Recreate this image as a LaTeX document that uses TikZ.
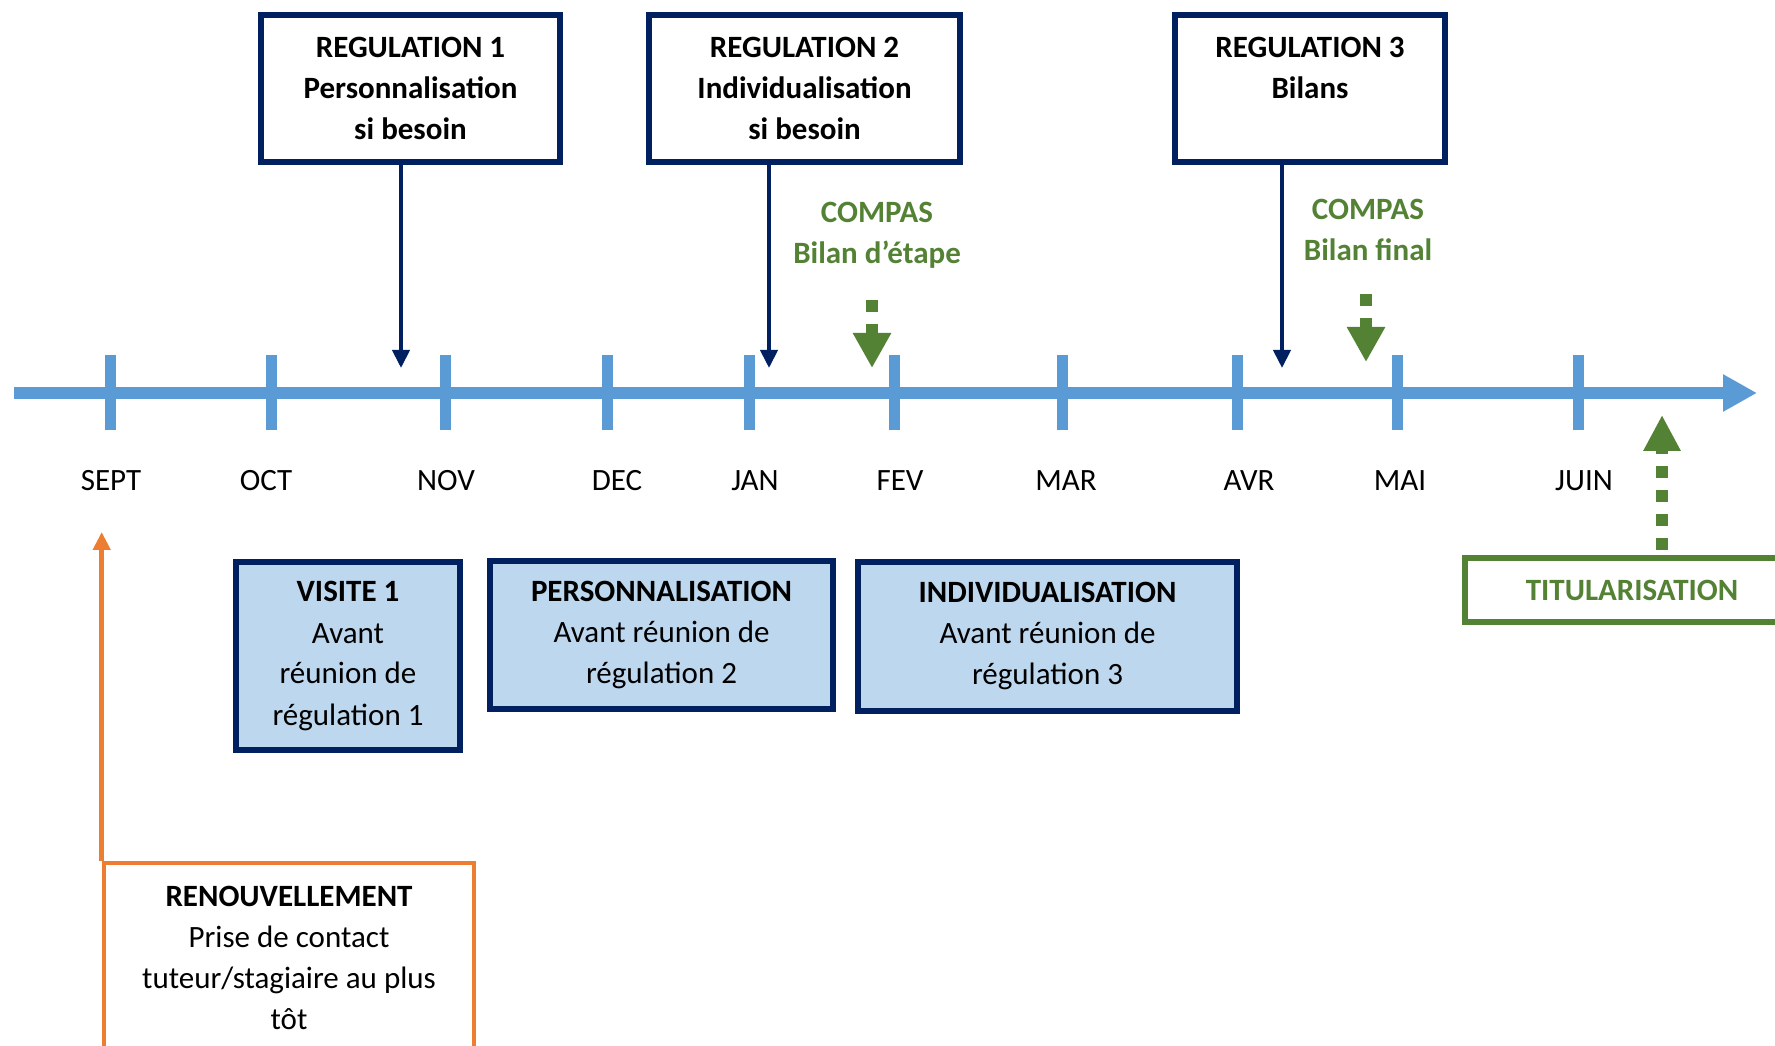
\documentclass[tikz,border=0pt]{standalone}
\usepackage{fontspec}
\setmainfont{Carlito}
\usetikzlibrary{arrows.meta}
\definecolor{navy}{HTML}{002060}
\definecolor{lblue}{HTML}{BDD7EE}
\definecolor{tline}{HTML}{5B9BD5}
\definecolor{gr}{HTML}{548235}
\definecolor{orng}{HTML}{ED7D31}
\begin{document}
\begin{tikzpicture}[x=0.25pt,y=-0.25pt,
  every node/.style={font=\fontsize{7.75pt}{10.25pt}\selectfont, inner sep=0pt, align=center},
  regbox/.style={draw=navy, line width=1.5pt, fill=white, font=\fontsize{7.75pt}{10.25pt}\selectfont\bfseries},
  actbox/.style={draw=navy, line width=1.5pt, fill=lblue},
  titbox/.style={draw=gr, line width=1.5pt, fill=white, text=gr, font=\fontsize{7.75pt}{10.25pt}\selectfont\bfseries},
  renbox/.style={draw=orng, line width=1.15pt, fill=white},
  greentext/.style={text=gr, font=\fontsize{7.75pt}{10.25pt}\selectfont\bfseries},
  month/.style={anchor=base},
  tick/.style={draw=tline, line width=2.75pt},
  timeline/.style={draw=tline, line width=3pt, -{Triangle[width=8.75pt,length=8.5pt]}},
  navyarrow/.style={draw=navy, line width=1pt, -{Triangle[width=4.25pt,length=4.5pt]}},
  greenarrow/.style={draw=gr, line width=3pt, dash pattern=on 3pt off 3pt, -{Triangle[width=9pt,length=8.75pt]}},
  titarrow/.style={draw=gr, line width=3pt, dash pattern=on 3pt off 3pt, -{Triangle[width=8.75pt,length=9pt]}},
  orngarrow/.style={draw=orng, line width=1.15pt, -{Triangle[width=4.25pt,length=4.5pt]}}
]
\useasboundingbox (0,0) rectangle (1775,1046);
\clip (0,0) rectangle (1775,1046);
\fill[white] (0,0) rectangle (1775,1046);

% timeline
\coordinate (tlstart) at (14,393);
\coordinate (tlend) at (1757,393);
\draw[timeline] (tlstart) -- (tlend);
\foreach \tx in {110,271,445,607,749,894,1062,1237,1397,1578}
  \draw[tick] (\tx,355) -- (\tx,430);

% months
\node[month] (m1) at (111,491) {SEPT};
\node[month] (m2) at (266,491) {OCT};
\node[month] (m3) at (446,491) {NOV};
\node[month] (m4) at (617,491) {DEC};
\node[month] (m5) at (755,491) {JAN};
\node[month] (m6) at (900,491) {FEV};
\node[month] (m7) at (1066,491) {MAR};
\node[month] (m8) at (1249,491) {AVR};
\node[month] (m9) at (1400,491) {MAI};
\node[month] (m10) at (1584,491) {JUIN};

% regulation boxes
\node[regbox, minimum width=74.75pt, minimum height=36.75pt] (reg1) at (410.5,88.5)
  {REGULATION 1\\Personnalisation\\si besoin};
\node[regbox, minimum width=77.75pt, minimum height=36.75pt] (reg2) at (804.5,88.5)
  {REGULATION 2\\Individualisation\\si besoin};
\node[regbox, minimum width=67.5pt, minimum height=36.75pt] (reg3) at (1310,88.5)
  {REGULATION 3\\Bilans\\\mbox{}};

\coordinate (r1tip) at (401,368);
\coordinate (r2tip) at (769,368);
\coordinate (r3tip) at (1282,368);
\draw[navyarrow] (reg1.south -| r1tip) -- (r1tip);
\draw[navyarrow] (reg2.south -| r2tip) -- (r2tip);
\draw[navyarrow] (reg3.south -| r3tip) -- (r3tip);

% compas
\node[greentext] (c1) at (877,235) {COMPAS\\Bilan d’étape};
\node[greentext] (c2) at (1368,230) {COMPAS\\Bilan final};
\coordinate (c1top) at (872,300);
\coordinate (c1tip) at (872,368);
\coordinate (c2top) at (1366,294);
\coordinate (c2tip) at (1366,362);
\draw[greenarrow] (c1top) -- (c1tip);
\draw[greenarrow] (c2top) -- (c2tip);

% activity boxes
\node[actbox, minimum width=56.1pt, minimum height=47pt] (vis) at (348,656)
  {{\bfseries VISITE 1}\\Avant\\réunion de\\régulation 1};
\node[actbox, minimum width=85.75pt, minimum height=37pt] (pers) at (661.5,635)
  {{\bfseries PERSONNALISATION}\\Avant réunion de\\régulation 2};
\node[actbox, minimum width=94.75pt, minimum height=37.25pt] (ind) at (1047.5,636.5)
  {{\bfseries INDIVIDUALISATION}\\Avant réunion de\\régulation 3};

% titularisation
\node[titbox, minimum width=83.75pt, minimum height=16pt] (tit) at (1632,590) {TITULARISATION};
\coordinate (tittip) at (1662,415);
\draw[titarrow] ([yshift=1.25pt]tit.north -| tittip) -- (tittip);

% renouvellement
\node[renbox, minimum width=92.5pt, minimum height=47.5pt] (ren) at (289,958)
  {{\bfseries RENOUVELLEMENT}\\Prise de contact\\tuteur/stagiaire au plus\\tôt};
\coordinate (rentip) at (100,532);
\draw[orngarrow] (ren.north west) -- (ren.north west |- rentip);
\end{tikzpicture}
\end{document}
